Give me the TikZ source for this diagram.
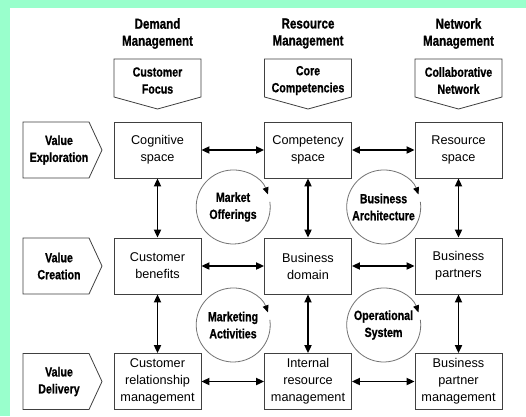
\documentclass[tikz,border=0pt]{standalone}
\usepackage{fontspec}
\setmainfont{Liberation Sans}
\newfontfamily\hdfont{Liberation Sans}[FakeStretch=0.8,BoldFeatures={FakeBold=0.8}]
\usetikzlibrary{arrows.meta}
\definecolor{mint}{RGB}{153,255,204}
\tikzset{
 box/.style={draw=black!75, line width=0.8pt, fill=white, minimum width=87pt, minimum height=56pt, inner sep=0pt, align=center, font=\fontsize{12.7}{17}\selectfont},
 hd/.style={align=center, font=\hdfont\bfseries\fontsize{14.5}{17}\selectfont, inner sep=0pt},
 lbl/.style={align=center, font=\hdfont\bfseries\fontsize{13.3}{17}\selectfont, inner sep=0pt},
 frame/.style={draw=black!75, line width=0.8pt},
 link/.style={{Triangle[length=8pt,width=7pt]}-{Triangle[length=8pt,width=7pt]}, line width=1.8pt},
 ring/.style={draw=black!55, line width=0.8pt, -{Triangle[length=7pt,width=6pt,color=black]}},
 orb/.style={circle, minimum size=74pt, inner sep=0pt},
}
\begin{document}
\begin{tikzpicture}[x=1pt,y=-1pt]
\useasboundingbox (0,0) rectangle (526,416);
\fill[mint] (0,0) rectangle (526,416);
\fill[white] (10,8) rectangle (526,416);

% headings
\node[hd] (h1) at (157.5,33.5) {Demand\\Management};
\node[hd] (h2) at (308,33.5) {Resource\\Management};
\node[hd] (h3) at (458.5,33.5) {Network\\Management};

% top pentagons
\foreach \xc in {157.5,308,458.5}{
  \draw[frame] (\xc-43.5,59) -- (\xc+43.5,59) -- (\xc+43.5,97) -- (\xc,109) -- (\xc-43.5,97) -- cycle;
}
\node[lbl] (p1) at (157.5,80.5) {Customer\\Focus};
\node[lbl] (p2) at (308,80.5) {Core\\Competencies};
\node[lbl] (p3) at (458.5,80.5) {Collaborative\\Network};

% left signals
\foreach \yc in {150,266,381.5}{
  \draw[frame] (23,\yc-28) -- (89,\yc-28) -- (102,\yc) -- (89,\yc+28) -- (23,\yc+28) -- cycle;
}
\node[lbl] (v1) at (59,150) {Value\\Exploration};
\node[lbl] (v2) at (59,266) {Value\\Creation};
\node[lbl] (v3) at (59,381.5) {Value\\Delivery};

% boxes
\node[box] (b11) at (157.5,150) {Cognitive\\space};
\node[box] (b12) at (308,150) {Competency\\space};
\node[box] (b13) at (458.5,150) {Resource\\space};
\node[box] (b21) at (157.5,266) {Customer\\benefits};
\node[box] (b22) at (308,266) {Business\\domain};
\node[box] (b23) at (458.5,266) {Business\\partners};
\node[box] (b31) at (157.5,381.5) {Customer\\relationship\\management};
\node[box] (b32) at (308,381.5) {Internal\\resource\\management};
\node[box] (b33) at (458.5,381.5) {Business\\partner\\management};

% links
\draw[link] (b11) -- (b12);
\draw[link] (b12) -- (b13);
\draw[link] (b21) -- (b22);
\draw[link] (b22) -- (b23);
\draw[link] (b31) -- (b32);
\draw[link] (b32) -- (b33);
\draw[link] (b11) -- (b21);
\draw[link] (b21) -- (b31);
\draw[link] (b12) -- (b22);
\draw[link] (b22) -- (b32);
\draw[link] (b13) -- (b23);
\draw[link] (b23) -- (b33);

% circles
\node[orb, lbl] (c1) at (233,207) {Market\\Offerings};
\node[orb, lbl] (c2) at (383.5,207) {Business\\Architecture};
\node[orb, lbl] (c3) at (233,325) {Marketing\\Activities};
\node[orb, lbl] (c4) at (383.5,325) {Operational\\System};
\foreach \c in {c1,c2,c3,c4}{
  \draw[ring] (\c.8) arc[start angle=8, end angle=-340, radius=37pt];
}
\end{tikzpicture}
\end{document}
